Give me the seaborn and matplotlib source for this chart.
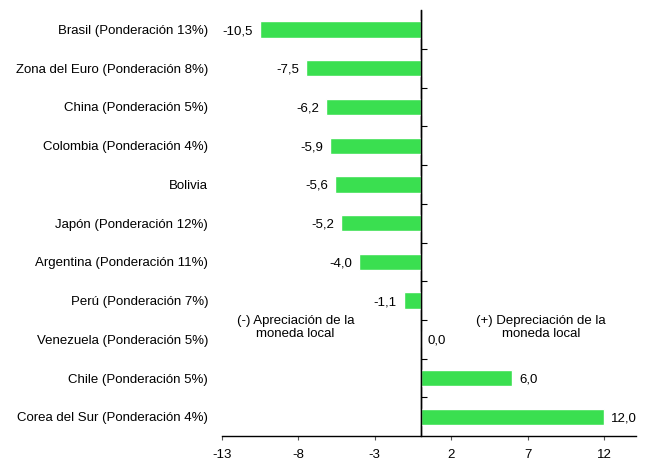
import matplotlib
matplotlib.use("Agg")
import matplotlib.pyplot as plt
import seaborn as sns
import numpy as np
import pandas as pd

paises = ['Brasil (Ponderación 13%)', 'Zona del Euro (Ponderación 8%)', 'China (Ponderación 5%)',
          'Colombia (Ponderación 4%)', 'Bolivia', 'Japón (Ponderación 12%)',
          'Argentina (Ponderación 11%)', 'Perú (Ponderación 7%)', 'Venezuela (Ponderación 5%)',
          'Chile (Ponderación 5%)', 'Corea del Sur (Ponderación 4%)']
variacion = [-10.5, -7.5, -6.2, -5.9, -5.6, -5.2, -4.0, -1.1, 0.0, 6.0, 12.0]
x_ticks = [-13, -8, -3, 2, 7, 12]

sns.set_style('white')
plt.rcParams['font.family'] = ['Liberation Sans', 'DejaVu Sans']
plt.rcParams['text.color'] = 'black'
plt.rcParams['xtick.labelcolor'] = 'black'
plt.rcParams['ytick.labelcolor'] = 'black'
fs = 9.5

df = pd.DataFrame({'pais': paises, 'valor': variacion})

fig = plt.figure(figsize=(6.47, 4.63), dpi=100)
ax = fig.add_axes([0.343, 0.058, 0.640, 0.92])
sns.barplot(data=df, x='valor', y='pais', orient='h', color='#3ADF50',
            saturation=1, width=0.42, ax=ax)

ax.set_xlim(-13, 14.1)
ax.set_ylim(len(paises) - 0.5, -0.5)
ax.set_xlabel('')
ax.set_ylabel('')

for s in ['top', 'right', 'left']:
    ax.spines[s].set_visible(False)
ax.spines['bottom'].set_color('black')
ax.spines['bottom'].set_linewidth(1)

ax.set_xticks(x_ticks)
ax.set_xticklabels([str(t) for t in x_ticks], fontsize=fs, color='black')
ax.tick_params(axis='x', direction='out', length=3, width=0.8, color='#555555', pad=6, bottom=True)
ax.tick_params(axis='y', length=0, labelsize=fs, pad=10, labelcolor='black')

# eje vertical en cero con marcas entre categorías
ax.axvline(0, color='black', lw=1)
sec = ax.secondary_yaxis((0 - (-13)) / (14.1 - (-13)))
sec.spines['left'].set_linewidth(1)
sec.spines['left'].set_color('black')
sec.set_yticks(np.arange(len(paises) - 1) + 0.5)
sec.set_yticklabels([])
sec.tick_params(axis='y', direction='in', length=4, width=0.8, color='black')

for i, v in enumerate(variacion):
    txt = f'{v:.1f}'.replace('.', ',')
    if v < 0:
        ax.text(v - 0.45, i, txt, ha='right', va='center_baseline', fontsize=fs, color='black')
    else:
        ax.text(v + 0.45, i, txt, ha='left', va='center_baseline', fontsize=fs, color='black')

ax.text(-8.2, 7.7, '(-) Apreciación de la\nmoneda local', ha='center', va='center',
        fontsize=fs, linespacing=1.05, color='black')
ax.text(7.9, 7.7, '(+) Depreciación de la\nmoneda local', ha='center', va='center',
        fontsize=fs, linespacing=1.05, color='black')

fig.savefig('out.png', dpi=100)
